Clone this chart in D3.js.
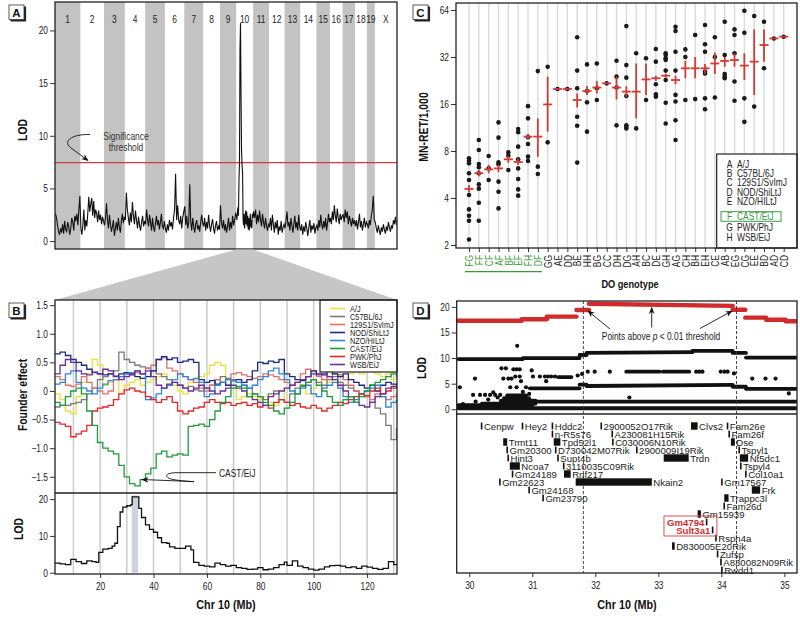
<!DOCTYPE html>
<html><head><meta charset="utf-8">
<script src="https://cdn.jsdelivr.net/npm/d3@7"></script>
<style>
body{margin:0;background:#fff;}
svg{display:block;}
</style></head><body>
<svg id="c" width="800" height="619"></svg>
<script>
// ================= DATA =================
// Panel A: genome scan
const chromosomes = ["1","2","3","4","5","6","7","8","9","10","11","12","13","14","15","16","17","18","19","X"];
const chromLengths = [195.5,182.1,160.0,156.5,151.8,149.7,145.4,129.4,124.6,130.7,122.1,120.1,120.4,124.9,104.0,98.2,95.3,90.7,61.4,171.0];
const scanA = [
 [2.6,2.2,1.5,0.9,0.6,1.2,0.8,1.6,0.7,1.9,1.1,0.9,1.8,1.4,0.6,1.2,2.2,1.8,1.0,2.4,1.9,2.6,1.5,3.0,4.3],
 [1.2,0.6,1.5,3.0,1.0,2.0,1.4,2.6,4.2,2.8,3.5,4.1,2.4,3.8,2.2,3.0,2.6,1.8,2.9,2.0,2.5,1.6,2.3,1.9],
 [1.5,2.2,3.6,2.0,1.2,2.5,1.6,0.9,1.4,2.0,0.5,1.2,1.8,1.0,2.2,1.3,0.8,1.9,2.6,1.7,2.3],
 [2.0,4.6,3.0,2.2,1.5,2.7,1.8,3.7,2.4,1.6,2.9,2.0,1.2,2.3,1.5,1.0,1.8,2.4,1.4,1.9],
 [1.6,3.0,2.0,1.4,2.5,1.8,1.0,2.2,1.3,0.9,1.7,2.4,1.5,2.0,1.1,1.8,2.6,1.4,1.2,1.9],
 [1.2,0.8,1.6,1.0,2.0,1.4,1.8,1.1,2.2,3.0,6.4,2.0,3.4,2.0,1.6,2.4,1.2,2.2,2.8],
 [3.3,1.5,2.4,1.2,1.8,5.4,1.8,1.0,2.2,1.4,0.8,1.6,2.0,1.1,1.5,0.9,1.8,2.5,1.7],
 [1.4,2.2,1.0,1.8,1.2,2.5,1.5,0.9,1.6,2.1,1.2,0.7,1.5,1.9,1.0,1.4,1.1],
 [3.4,1.8,1.2,2.0,1.0,1.6,0.8,1.4,2.2,1.0,1.8,1.2,2.4,1.5,2.0,2.6],
 [2.4,2.0,2.8,3.2,2.4,5.8,7.5,18.3,20.7,14.0,8.6,7.2,6.5,2.0,1.5,2.6,1.2,2.0,2.9,1.6,2.8,1.4,2.4,1.1,2.2,1.0,1.8,2.6,1.3,2.0,1.2,2.6,2.2],
 [2.8,2.2,3.0,1.6,2.5,1.8,2.9,2.0,1.4,2.6,1.8,1.2,2.2,1.5,1.0,1.6],
 [1.4,2.2,1.0,2.5,1.6,0.8,1.8,1.2,2.0,0.6,1.4,1.0,1.9,0.8,1.3,1.6],
 [1.2,2.0,2.8,1.4,1.8,1.0,2.2,1.5,0.8,1.6,2.4,1.2,1.8,1.0,2.5,1.4],
 [1.0,1.6,0.6,1.4,0.9,1.8,1.2,0.5,1.3,2.0,0.8,1.5,1.1,1.7,0.7,1.3],
 [1.5,1.0,2.0,1.3,2.5,1.6,1.1,1.9,1.3,2.2,1.0,1.7,2.6,1.8],
 [2.2,1.6,2.8,2.0,3.4,2.4,1.8,3.1,2.2,1.6,2.6,2.0,2.4],
 [2.5,1.8,3.0,2.2,2.8,1.6,2.4,1.9,1.4,2.2,1.6,2.0],
 [1.4,2.0,1.1,1.8,2.6,1.3,1.9,1.0,1.6,2.2,1.3,1.8],
 [1.6,1.2,2.0,1.5,2.4,3.0,4.3,2.0],
 [1.8,1.2,0.8,1.5,1.0,0.6,1.3,0.9,1.6,1.1,0.7,1.4,1.0,1.8,1.3,0.9,1.5,1.2,2.0,1.6,2.3,1.5]
];
const thresholdA = 7.45;
const lodTicksA = [0,5,10,15,20];

// Panel B: founder effects on Chr 10
const founderLetters = ["A","B","C","D","E","F","G","H"];
const founderNames = ["A/J","C57BL/6J","129S1/SvImJ","NOD/ShiLtJ","NZO/HILtJ","CAST/EiJ","PWK/PhJ","WSB/EiJ"];
const founderColors = ["#e9e23c","#7a7a7a","#e07070","#1c2a80","#2f86d6","#1f9a3c","#e3262a","#6b2f98"];
const effectPos = [3,5,7,9,11,13,15,17,19,21,23,25,27,29,31,33,35,37,39,41,43,45,47,49,51,53,55,57,59,61,63,65,67,69,71,73,75,77,79,81,83,85,87,89,91,93,95,97,99,101,103,105,107,109,111,113,115,117,119,121,123,125,127,129,131];
const effectAJ   = [-0.05,-0.15,-0.35,-0.4,-0.1,0.15,0.3,0.55,0.45,0.1,0.15,0.2,-0.05,0.1,0.15,0.2,0.1,0.15,0.2,0.25,0.3,0.2,0.1,0.0,-0.05,0.15,0.2,0.25,0.3,0.45,0.5,0.45,0.1,0.05,-0.15,-0.1,-0.05,-0.1,-0.15,-0.1,-0.2,-0.25,-0.15,0.05,0.1,0.15,0.1,-0.05,0.05,0.15,0.2,0.15,0.2,0.25,0.2,0.3,0.35,0.3,0.4,0.35,0.3,0.25,0.3,0.2,0.25];
const effectB6   = [-0.28,-0.25,-0.25,-0.22,-0.2,-0.15,-0.05,0.05,0.2,0.25,0.3,0.35,0.68,0.55,0.5,0.45,0.42,0.4,0.35,0.3,0.25,0.2,0.15,0.1,0.05,0.08,0.02,0.0,0.05,0.1,0.2,0.25,0.22,0.2,0.15,0.1,0.05,-0.05,-0.1,-0.15,-0.05,0.0,-0.15,-0.2,-0.05,0.05,0.1,0.15,0.2,0.15,0.1,0.2,0.25,0.15,0.1,0.05,0.0,-0.05,-0.1,-0.2,-0.3,-0.4,-0.6,-0.85,-0.65];
const effect129  = [0.25,0.2,0.1,0.08,0.12,0.25,0.15,0.05,0.0,-0.05,0.0,0.2,0.25,0.3,0.3,0.32,0.3,0.4,0.45,0.55,0.58,0.4,0.35,0.3,0.25,0.2,0.15,0.05,0.0,0.1,0.2,0.15,0.2,0.3,0.32,0.28,0.25,0.22,0.25,0.3,0.28,0.25,0.2,0.15,0.1,0.15,0.3,0.38,0.35,0.25,0.2,0.25,0.3,0.28,0.2,0.1,0.0,-0.05,-0.1,-0.15,-0.05,-0.1,-0.15,-0.1,-0.05];
const effectNOD  = [0.65,0.68,0.62,0.55,0.5,0.45,0.38,0.33,0.3,0.28,0.3,0.26,0.3,0.32,0.28,0.25,0.22,0.25,0.35,0.55,0.6,0.55,0.58,0.5,0.52,0.55,0.5,0.2,0.15,0.18,0.12,0.15,0.1,0.18,0.2,0.15,0.2,0.35,0.5,0.48,0.52,0.5,0.55,0.3,0.25,0.2,0.18,0.25,0.35,0.3,0.28,0.35,0.3,0.25,0.3,0.2,0.15,0.1,0.05,0.1,0.0,0.1,0.15,0.12,0.1];
const effectNZO  = [0.12,0.15,0.3,0.35,0.15,0.05,0.0,-0.05,0.05,0.12,0.18,0.2,0.25,0.3,0.32,0.35,0.3,-0.15,-0.12,-0.05,0.05,0.1,0.2,0.3,0.25,0.2,0.22,0.15,-0.1,-0.05,0.1,0.15,0.2,0.18,0.15,0.1,0.05,0.1,0.2,0.25,0.35,0.4,0.3,0.2,0.0,-0.05,0.05,0.1,-0.05,-0.1,0.05,0.1,0.15,0.05,-0.1,-0.2,-0.15,-0.05,0.0,0.05,0.1,-0.1,-0.28,-0.2,-0.15];
const effectCAST = [-0.2,-0.25,-0.1,0.0,0.05,-0.05,-0.35,-0.6,-0.9,-1.0,-1.05,-1.1,-1.3,-1.5,-1.62,-1.66,-1.55,-1.45,-1.35,-1.1,-1.05,-1.15,-1.12,-1.1,-1.12,-0.62,-0.6,-0.58,-0.62,-0.5,-0.35,-0.2,-0.1,0.05,0.08,0.05,-0.1,-0.05,-0.1,-0.2,-0.25,-0.35,-0.4,-0.3,-0.2,-0.05,0.08,0.15,0.2,0.1,0.0,-0.1,-0.2,-0.25,-0.15,-0.1,-0.2,-0.1,0.0,0.1,0.15,0.2,0.25,0.3,0.25];
const effectPWK  = [-0.55,-0.58,-0.62,-0.8,-0.75,-0.7,-0.6,-0.35,-0.3,-0.28,-0.25,-0.15,-0.05,0.02,0.05,0.0,-0.02,-0.1,-0.15,-0.2,-0.15,-0.1,-0.2,-0.35,-0.4,-0.35,-0.3,-0.28,-0.2,-0.15,-0.2,-0.22,-0.2,-0.25,-0.22,-0.2,-0.25,-0.22,-0.28,-0.25,-0.3,-0.2,-0.15,-0.2,-0.25,-0.22,-0.28,-0.3,-0.25,-0.3,-0.35,-0.3,-0.25,-0.2,-0.22,-0.15,-0.1,-0.05,-0.08,0.0,0.05,-0.05,0.0,0.05,0.08];
const effectWSB  = [0.3,0.45,0.55,0.5,0.35,0.3,0.28,0.32,0.3,0.38,0.35,0.25,0.2,0.25,0.3,0.35,0.3,0.35,0.25,0.1,0.05,0.12,0.15,0.1,0.05,0.0,0.05,0.1,0.05,0.0,-0.05,0.0,0.05,0.1,0.05,0.0,-0.1,-0.15,-0.2,-0.25,-0.1,-0.05,0.0,0.05,0.1,0.15,0.2,0.25,0.3,0.28,0.3,0.25,0.2,0.1,0.0,-0.1,-0.2,-0.25,-0.28,-0.2,-0.1,-0.05,0.05,0.08,0.1];
const effectTicks = [-1.5,-1.0,-0.5,0,0.5,1.0,1.5];
const lodChr10Pos = [3,5,7,9,11,13,15,17,18.5,19.5,21,23,24.5,25.5,26.5,27.5,28.5,30,31.5,32,34,34.5,35.5,37,38.5,40,41.5,43,45,46,48,50,52,54,55,57,59,61,63,65,67,69,71,73,75,77,79,81,83,85,87,89,90,92,94,96,98,100,102,104,106,108,110,112,114,116,118,120,122,124,126,128,130,131];
const lodChr10Val = [2.6,2.4,2.2,3.6,3.0,2.5,3.2,3.0,2.8,5.5,6.4,6.6,7.2,8.0,12.5,16.5,17.8,18.2,18.5,20.6,20.6,17.5,15.0,13.0,11.8,11.0,9.5,8.2,8.0,7.0,6.6,6.6,7.2,6.2,2.8,2.0,1.8,1.6,2.6,2.2,1.8,2.0,1.4,1.2,0.9,1.0,1.4,0.8,1.0,1.4,2.2,2.9,2.0,3.2,1.8,1.4,1.0,0.7,1.0,1.6,1.9,2.0,1.8,1.4,1.6,1.2,1.8,1.5,1.2,0.9,1.2,3.0,2.2,2.0];
const lodTicksB = [0,10,20];
const mbTicksB = [20,40,60,80,100,120];
const qtlInterval = [31.81,34.24];

// Panel C: MN-RET by DO genotype
const genotypes = ["FG","FF","CF","AF","BF","EF","FH","DF","GG","AE","DD","BE","HH","BG","CC","DH","DG","AH","BC","DE","GH","AG","CH","BH","EH","CE","AB","EG","CG","EE","BD","AD","CD"];
const castGenotypes = ["FG","FF","CF","AF","BF","EF","FH","DF"];
const mnretMean = [4.57,5.76,6.1,6.19,7.08,6.8,9.89,9.89,15.9,19.96,19.96,16.97,19.4,20.4,21.7,20.4,19.2,19.2,23.0,23.4,24.3,22.8,27.1,27.1,27.1,29.1,30.2,30.6,28.2,29.9,38.2,42.1,43.2];
const mnretLo = [4.33,5.5,5.76,5.87,6.73,6.52,9.5,7.36,10.64,19.96,19.96,15.2,18.3,18.7,21.7,17.1,17.8,12.95,18.3,22.5,23.4,21.4,23.4,23.4,25.1,24.9,27.7,27.7,22.8,18.3,29.9,42.1,43.2];
const mnretHi = [4.85,6.05,6.52,6.52,7.43,7.18,10.3,12.95,23.95,19.96,19.96,18.7,20.9,22.5,21.7,23.95,20.8,29.1,29.1,24.3,25.0,24.3,30.2,32.0,28.9,34.1,32.0,33.8,33.8,48.1,48.1,42.1,43.2];
const mnretPoints = [
 [7.18,6.94,6.67,5.76,5.22,4.18,3.38,3.08,2.86,2.17],
 [9.41,8.12,6.6,6.29,5.76,4.89,4.59,3.73,2.86],
 [7.43,6.19,5.22],
 [12.2,9.74,6.77,6.57,5.09,4.39,3.43],
 [7.85,7.47,6.05],
 [11.07,10.54,8.53,7.08,6.19,5.29,4.54,4.14],
 [15.5,12.95,9.79,8.87,7.36,6.9],
 [26.0,6.35,5.7],
 [27.7,9.09],
 [19.96],
 [19.96],
 [42.8,26.2,20.2,13.27,11.62,6.74],
 [28.7,19.4,16.4,10.64],
 [29.1,20.2,16.97],
 [21.7],
 [30.3,23.95,20.4,11.68],
 [50.5,28.4,23.6,18.0,11.7,11.45,11.17],
 [33.8,11.17],
 [31.4,16.97],
 [36.0,29.9,21.4,18.45,17.8],
 [33.8,33.0,31.4,30.6,26.2,22.8,16.3,12.0],
 [50.0,47.0,34.6,26.2,18.3,16.6,12.6,9.41],
 [35.8,32.0,16.97],
 [44.3,17.2],
 [51.3,38.6,34.6,25.8,25.1,17.4,14.8],
 [42.8,32.0,17.6],
 [53.9,33.0,24.9,23.95,23.4],
 [48.1,44.3,33.8,22.3,16.8],
 [63.4,45.8,17.4,12.3],
 [58.6,15.4],
 [53.9,27.1],
 [42.1],
 [43.2]
];
const mnretTicks = [2,4,8,16,32,64];

// Panel D: fine mapping 30-35 Mb
const snpRedSegs = [[29.82,30.83,17.3,17.3],[30.83,31.23,17.6,17.6],[31.23,31.7,18.1,18.1],[31.7,31.9,19.4,19.4],[31.9,34.18,20.6,20.2],[34.18,34.38,19.45,19.45],[34.38,34.71,17.9,17.9],[34.71,35.02,17.5,17.5],[35.02,35.18,17.2,17.2]];
const snpBlackSegs = [
 [29.83,30.85,9.8,9.8],[30.85,31.75,10.0,10.0],[31.75,31.86,10.6,10.6],[31.86,33.54,11.0,11.15],[33.54,34.18,11.4,11.4],[34.18,34.39,11.0,11.0],[34.39,35.18,10.1,10.1],
 [30.96,31.75,4.1,4.1],[31.75,31.86,4.8,4.8],[31.86,34.18,4.55,4.75],[34.18,34.39,4.4,4.4],[34.39,35.18,4.0,4.0],
 [30.85,35.18,1.5,1.5],[29.83,35.18,0.2,0.2],
 [29.83,31.0,0.8,0.8],[30.2,31.05,1.1,1.1],[30.5,31.05,1.7,1.7],[30.55,30.95,2.2,2.2],[30.6,30.9,2.7,2.7],
 [31.41,31.62,6.3,6.3],[32.49,33.02,7.35,7.35],[33.07,33.49,7.35,7.35]
];
const snpBlackDots = [[29.85,4.3],[30.09,6.0],[30.06,2.8],[30.17,2.8],[30.25,2.8],[30.33,2.8],[30.41,2.8],[30.49,2.8],[30.51,8.0],[30.58,8.0],[30.54,6.0],[30.62,6.0],[30.67,6.0],[30.7,7.8],[30.75,7.8],[30.8,7.8],[30.76,12.4],[30.73,6.4],[30.8,6.4],[30.99,7.6],[31.01,6.4],[30.82,5.5],[30.65,4.3],[30.75,4.3],[30.9,4.3],[31.12,6.4],[31.2,6.4],[31.25,6.4],[31.3,6.4],[31.36,6.4],[31.22,5.5],[31.72,6.6],[31.79,6.9],[31.88,7.35],[31.99,7.35],[32.23,7.35],[33.6,7.35],[33.65,7.35],[33.7,7.35],[33.99,7.35],[34.05,7.35],[34.1,7.35],[34.2,7.0],[32.54,2.3],[34.49,6.0],[34.7,6.0],[34.86,6.0],[35.07,3.1],[30.1,1.5],[30.3,1.9],[30.45,2.3],[30.0,0.6],[29.9,1.0],[30.38,3.3],[30.85,3.4],[30.95,3.0]];
const lodTicksD = [0,5,10,15,20];
const mbTicksD = [30,31,32,33,34,35];
// genes: [name, start, end, row, labelSide, highlight]
const genes = [
 ["Cenpw",30.195,30.195,0,"r",0],["Hey2",30.844,30.844,0,"r",0],["Hddc2",31.319,31.319,0,"r",0],["2900052O17Rik",32.094,32.094,0,"r",0],["Clvs2",33.518,33.623,0,"r",0],["Fam26e",34.098,34.098,0,"r",0],
 ["n-R5s76",31.319,31.319,1,"r",0],["A230081H15Rik",32.268,32.268,1,"r",0],["Fam26f",34.124,34.124,1,"r",0],
 ["Trmt11",30.538,30.601,2,"r",0],["Tpd52l1",31.34,31.445,2,"r",0],["C030006N10Rik",32.278,32.278,2,"r",0],["Dse",34.151,34.214,2,"r",0],
 ["Gm20300",30.601,30.601,3,"r",0],["D730042M07Rik",31.371,31.371,3,"r",0],["2900009I19Rik",32.658,32.658,3,"r",0],["Tspyl1",34.283,34.283,3,"r",0],
 ["Hint3",30.617,30.617,4,"r",0],["Supt4b",31.408,31.408,4,"r",0],["Trdn",33.085,33.481,4,"r",0],["Nt5dc1",34.293,34.425,4,"r",0],
 ["Ncoa7",30.643,30.802,5,"r",0],["3110035C09Rik",31.498,31.498,5,"r",0],["Tspyl4",34.309,34.309,5,"r",0],
 ["Gm24189",30.686,30.686,6,"r",0],["Rnf217",31.503,31.609,6,"r",0],["Col10a1",34.388,34.388,6,"r",0],
 ["Gm22623",30.485,30.485,7,"r",0],["Nkain2",31.688,32.896,7,"r",0],["Gm17567",34.008,34.008,7,"r",0],
 ["Gm24168",30.949,30.949,8,"r",0],["Frk",34.483,34.615,8,"r",0],
 ["Gm23790",31.171,31.171,9,"r",0],["Trappc3l",34.045,34.114,9,"r",0],
 ["Fam26d",34.045,34.045,10,"r",0],
 ["Gm15939",33.623,33.675,11,"r",0],
 ["Gm4794",33.766,33.766,12,"l",1],
 ["Sult3a1",33.861,33.861,13,"l",1],
 ["Rsph4a",33.914,33.914,14,"r",0],
 ["D830005E20Rik",33.217,33.259,15,"r",0],
 ["Zufsp",33.94,33.94,16,"r",0],
 ["A830082N09Rik",33.993,33.993,17,"r",0],
 ["Rwdd1",34.008,34.008,18,"r",0]
];

// ================= DRAWING =================
const FN = "'Liberation Sans',Arial,sans-serif";   // compressed horizontally below
const FW = "'Liberation Sans',Arial,sans-serif";
const INK = "#222";
const svg = d3.select("#c");
const defs = svg.append("defs");
defs.append("marker").attr("id","ah").attr("viewBox","0 0 10 10").attr("refX",9).attr("refY",5)
  .attr("markerWidth",8).attr("markerHeight",8).attr("orient","auto")
  .append("path").attr("d","M0,1 L10,5 L0,9 L3,5 Z").attr("fill","#111");

function frame(x,y,w,h){
  svg.append("rect").attr("x",x).attr("y",y).attr("width",w).attr("height",h)
    .attr("fill","none").attr("stroke",INK).attr("stroke-width",1.3);
}
function styleAxis(g,size){
  g.select(".domain").remove();
  g.selectAll(".tick line").attr("stroke","#333").attr("stroke-width",1);
  g.selectAll(".tick text").attr("font-family",FN).attr("font-size",size).attr("fill","#222").classed("nar",true);
}
function title(x,y,t,rot,size){
  svg.append("text").attr("transform",`translate(${x},${y})${rot?" rotate(-90)":""}`)
    .attr("text-anchor","middle").attr("font-family",FN).attr("font-weight","bold").classed("nar",true)
    .attr("font-size",size||12.5).attr("fill","#111").text(t);
}
function ntext(x,y,t,size,col){
  return svg.append("text").attr("x",x).attr("y",y).attr("font-family",FN).attr("font-size",size).attr("fill",col||"#222").classed("nar",true).text(t);
}
function panelLabel(x,y,t){
  svg.append("path").attr("d",`M${x+1.5},${y+15.5} H${x+16} V${y+1.5}`).attr("fill","none").attr("stroke","#222").attr("stroke-width",2.2);
  svg.append("rect").attr("x",x).attr("y",y).attr("width",15).attr("height",14.5).attr("fill","#fff").attr("stroke","#333").attr("stroke-width",0.8);
  svg.append("text").attr("x",x+7.5).attr("y",y+11.5).attr("text-anchor","middle").attr("font-family",FW).attr("font-weight","bold").attr("font-size",11.5).attr("fill","#111").text(t);
}
const fmtEff = d => d===0 ? "0" : (d<0?"\u2212":"") + Math.abs(d).toFixed(1);

// ---------- Panel A ----------
const starts = []; { let acc=0; chromLengths.forEach(l=>{starts.push(acc); acc+=l;}); }
const totalLen = d3.sum(chromLengths);
const xA = d3.scaleLinear().domain([0,totalLen]).range([55,397]);
const yA = d3.scaleLinear().domain([-0.75,22.7]).range([249,2]);
chromosomes.forEach((c,i)=>{
  if(i%2===0) svg.append("rect").attr("x",xA(starts[i])).attr("y",2).attr("width",xA(starts[i]+chromLengths[i])-xA(starts[i])).attr("height",247).attr("fill","#c3c3c3");
  ntext(xA(starts[i]+chromLengths[i]/2),23,c,10.5).attr("text-anchor","middle");
});
svg.append("line").attr("x1",55).attr("x2",397).attr("y1",yA(thresholdA)).attr("y2",yA(thresholdA)).attr("stroke","#cf3a3a").attr("stroke-width",1.3);
const scanPts = [];
scanA.forEach((vals,ci)=>{ const n=vals.length; vals.forEach((v,j)=>scanPts.push([starts[ci]+(j+0.5)/n*chromLengths[ci], v])); });
svg.append("path").datum(scanPts).attr("d",d3.line().x(d=>xA(d[0])).y(d=>yA(d[1])))
  .attr("fill","none").attr("stroke","#111").attr("stroke-width",1.1);
styleAxis(svg.append("g").attr("transform","translate(55,0)").call(d3.axisLeft(yA).tickValues(lodTicksA).tickSize(5).tickPadding(2)),10.5);
frame(55,2,342,247);
title(27,130,"LOD",true,13);
ntext(126,140,"Significance",10.5,"#333").attr("text-anchor","middle");
ntext(126,151,"threshold",10.5,"#333").attr("text-anchor","middle");
svg.append("path").attr("d","M90,134.5 C72,134 62,141 71,148 L88,160.5").attr("fill","none").attr("stroke","#111").attr("stroke-width",0.9).attr("marker-end","url(#ah)");
panelLabel(9,5,"A");

// trapezoid linking chr 10 to panel B
svg.append("polygon").attr("points",[[xA(starts[9]),249.5],[xA(starts[9]+chromLengths[9]),249.5],[397,300],[55,300]].map(p=>p.join(",")).join(" "))
  .attr("fill","#c6c6c6");

// ---------- Panel B ----------
const xB = d3.scaleLinear().domain([3.1,131.2]).range([55,397]);
const yF = d3.scaleLinear().domain([-1.783,1.59]).range([493,300]);
const yL = d3.scaleLinear().domain([-0.35,21.66]).range([574,493]);
svg.append("rect").attr("x",55).attr("y",300).attr("width",342).attr("height",274).attr("fill","#fff");
d3.range(10,131,10).forEach(m=>{
  svg.append("line").attr("x1",xB(m)).attr("x2",xB(m)).attr("y1",300).attr("y2",574).attr("stroke","#c9c9c9").attr("stroke-width",1.4);
});
svg.append("rect").attr("x",xB(qtlInterval[0])).attr("width",xB(qtlInterval[1])-xB(qtlInterval[0]))
  .attr("y",yL(21)).attr("height",yL(0)-yL(21)).attr("fill","#cdd3da");
defs.append("clipPath").attr("id","clipF").append("rect").attr("x",55).attr("y",300).attr("width",342).attr("height",193);
const effects = [effectAJ,effectB6,effect129,effectNOD,effectNZO,effectCAST,effectPWK,effectWSB];
const gF = svg.append("g").attr("clip-path","url(#clipF)");
const drawOrder = [0,1,2,3,4,6,7,5];
drawOrder.forEach(i=>{
  const pts = effectPos.map((p,k)=>[p,effects[i][k]]);
  gF.append("path").datum(pts).attr("d",d3.line().curve(d3.curveStepAfter).x(d=>xB(d[0])).y(d=>yF(d[1])))
    .attr("fill","none").attr("stroke",founderColors[i]).attr("stroke-width",1.3);
});
const lodB = lodChr10Pos.map((p,k)=>[p,lodChr10Val[k]]);
svg.append("path").datum(lodB).attr("d",d3.line().curve(d3.curveStepAfter).x(d=>xB(d[0])).y(d=>yL(d[1])))
  .attr("fill","none").attr("stroke","#111").attr("stroke-width",1.3);
// legend
svg.append("rect").attr("x",320).attr("y",300).attr("width",77).attr("height",72).attr("fill","#fff").attr("stroke",INK).attr("stroke-width",1.2);
founderNames.forEach((n,i)=>{
  const y = 308.5 + i*8;
  svg.append("line").attr("x1",330).attr("x2",345).attr("y1",y).attr("y2",y).attr("stroke",founderColors[i]).attr("stroke-width",1.6);
  ntext(350,y+3.2,n,9.2);
});
svg.append("line").attr("x1",55).attr("x2",397).attr("y1",493).attr("y2",493).attr("stroke",INK).attr("stroke-width",1.3);
styleAxis(svg.append("g").attr("transform","translate(55,0)").call(d3.axisLeft(yF).tickValues(effectTicks).tickFormat(fmtEff).tickSize(5).tickPadding(2)),10.5);
styleAxis(svg.append("g").attr("transform","translate(55,0)").call(d3.axisLeft(yL).tickValues(lodTicksB).tickSize(5).tickPadding(2)),10.5);
styleAxis(svg.append("g").attr("transform","translate(0,574)").call(d3.axisBottom(xB).tickValues(mbTicksB).tickSize(4).tickPadding(5)),10.5);
frame(55,300,342,274);
title(27,395,"Founder effect",true,13);
title(23,529,"LOD",true,13);
title(226,609,"Chr 10 (Mb)",false,13.5);
ntext(219,476.8,"CAST/EiJ",10.5);
svg.append("path").attr("d","M216,472.7 L176,472.7 C163,473 165,478 173,479.5 C181,481 190,481.5 194,481.6 L142,479.5")
  .attr("fill","none").attr("stroke","#111").attr("stroke-width",0.9).attr("marker-end","url(#ah)");
panelLabel(9,303,"B");

// ---------- Panel C ----------
const xC = d3.scalePoint().domain(genotypes).range([469,783.7]);
const yC = d3.scaleLog().base(2).domain([1.913,71.0]).range([248,3]);
genotypes.forEach(g=>{
  svg.append("line").attr("x1",xC(g)).attr("x2",xC(g)).attr("y1",3).attr("y2",248).attr("stroke","#dadada").attr("stroke-width",1.4);
});
genotypes.forEach((g,i)=>{
  mnretPoints[i].forEach(v=>{
    svg.append("circle").attr("cx",xC(g)).attr("cy",yC(v)).attr("r",2.3).attr("fill","#1a1a1a");
  });
});
genotypes.forEach((g,i)=>{
  const x = xC(g);
  if(mnretHi[i]>mnretLo[i]) svg.append("line").attr("x1",x).attr("x2",x).attr("y1",yC(mnretLo[i])).attr("y2",yC(mnretHi[i])).attr("stroke","#d43b35").attr("stroke-width",1.8);
  svg.append("line").attr("x1",x-4.5).attr("x2",x+4.5).attr("y1",yC(mnretMean[i])).attr("y2",yC(mnretMean[i])).attr("stroke","#d43b35").attr("stroke-width",1.8);
});
// legend
svg.append("rect").attr("x",716.7).attr("y",154).attr("width",80.3).attr("height",94).attr("fill","#fff").attr("stroke",INK).attr("stroke-width",1.2);
founderNames.forEach((n,i)=>{
  const y = i<5 ? 164+9.3*i : 216.5+10.3*(i-5);
  const hl = founderLetters[i]==="F";
  const col = hl ? "#2f9a3f" : "#222";
  ntext(729.5,y+3.7,founderLetters[i],10.5,col).attr("text-anchor","middle");
  ntext(737,y+3.7,n,10.5,col);
  if(hl) svg.append("rect").attr("x",721).attr("y",y-4.8).attr("width",60).attr("height",9.6).attr("fill","none").attr("stroke","#3a9a4a").attr("stroke-width",1);
});
styleAxis(svg.append("g").attr("transform","translate(456,0)").call(d3.axisLeft(yC).tickValues(mnretTicks).tickFormat(d3.format("d")).tickSize(5).tickPadding(2)),10.5);
const gxC = svg.append("g").attr("transform","translate(0,248)").call(d3.axisBottom(xC).tickSize(4).tickPadding(2));
styleAxis(gxC,10.5);
gxC.selectAll(".tick text").attr("transform","rotate(-90)").attr("text-anchor","end").attr("dx","0").attr("dy","0.35em").attr("y",0).attr("x",-7)
  .attr("fill",d=>castGenotypes.includes(d)?"#3a9a3a":"#222");
svg.append("line").attr("x1",xC(castGenotypes[0])-4).attr("x2",xC(castGenotypes[castGenotypes.length-1])+4).attr("y1",271.7).attr("y2",271.7).attr("stroke","#3a9a3a").attr("stroke-width",1.3);
frame(456,3,341,245);
title(428,127,"MN-RET/1,000",true,13);
title(630,287.5,"DO genotype",false,11.5);
panelLabel(413,5,"C");

// ---------- Panel D ----------
const xD = d3.scaleLinear().domain([29.8,35.2]).range([456.7,797]);
const yD = d3.scaleLinear().domain([-0.92,21.15]).range([414,301]);
const rowY = d3.scaleLinear().domain([0,18]).range([426,570]);
defs.append("clipPath").attr("id","clipD").append("rect").attr("x",456.7).attr("y",301).attr("width",340.3).attr("height",113);
const gD = svg.append("g").attr("clip-path","url(#clipD)");
snpBlackSegs.forEach(s=>{
  gD.append("line").attr("x1",xD(s[0])).attr("x2",xD(s[1])).attr("y1",yD(s[2])).attr("y2",yD(s[3])).attr("stroke","#111").attr("stroke-width",3.8).attr("stroke-linecap","round");
});
snpBlackDots.forEach(p=>{
  gD.append("circle").attr("cx",xD(p[0])).attr("cy",yD(p[1])).attr("r",2.1).attr("fill","#111");
});
snpRedSegs.forEach(s=>{
  gD.append("line").attr("x1",xD(s[0])).attr("x2",xD(s[1])).attr("y1",yD(s[2])).attr("y2",yD(s[3])).attr("stroke","#d02a2a").attr("stroke-width",4.4).attr("stroke-linecap","round");
});
qtlInterval.forEach(m=>{
  svg.append("line").attr("x1",xD(m)).attr("x2",xD(m)).attr("y1",301).attr("y2",573).attr("stroke","#333").attr("stroke-width",0.9).attr("stroke-dasharray","3,2");
});
// annotation
const ann = svg.append("text").attr("x",661).attr("y",339.5).attr("text-anchor","middle").attr("font-family",FN).attr("font-size",10.5).attr("fill","#222").classed("nar",true);
ann.append("tspan").text("Points above ");
ann.append("tspan").attr("font-style","italic").text("p");
ann.append("tspan").text(" < 0.01 threshold");
[[[610,329],[588,311]],[[651.7,327.5],[651.7,307.5]],[[700,328.5],[732,311]]].forEach(a=>{
  svg.append("line").attr("x1",a[0][0]).attr("y1",a[0][1]).attr("x2",a[1][0]).attr("y2",a[1][1]).attr("stroke","#111").attr("stroke-width",0.9).attr("marker-end","url(#ah)");
});
// genes
const hlLabels = [];
genes.forEach(g=>{
  const [name,s,e,row,side,hl] = g;
  const y = rowY(row);
  const isTick = e<=s;
  const x0 = isTick ? xD(s)-0.8 : xD(s);
  const w = isTick ? 1.6 : xD(e)-xD(s);
  svg.append("rect").attr("x",x0).attr("y",isTick?y-3.4:y-3.7).attr("width",w).attr("height",isTick?6.8:7.4).attr("fill","#111");
  const t = svg.append("text").attr("y",y+3.5).attr("font-size",9.6).text(name);
  if(side==="l"){
    t.attr("x",x0-1.5).attr("text-anchor","end").attr("font-family",FW).attr("font-weight","bold").attr("fill","#d03030");
    hlLabels.push({t,x1:x0+w});
  } else {
    t.attr("x",x0+w+1.5).attr("font-family",FW).attr("fill","#222");
  }
});
if(hlLabels.length){
  const bbs = hlLabels.map(h=>h.t.node().getBBox());
  const bx0 = d3.min(bbs,b=>b.x)-3, by0 = d3.min(bbs,b=>b.y)-0.5;
  const bx1 = d3.max(hlLabels,h=>h.x1)+3.5, by1 = d3.max(bbs,b=>b.y+b.height)+0.5;
  svg.append("rect").attr("x",bx0).attr("y",by0).attr("width",bx1-bx0).attr("height",by1-by0).attr("fill","none").attr("stroke","#d85050").attr("stroke-width",1);
}
svg.append("line").attr("x1",456.7).attr("x2",797).attr("y1",414).attr("y2",414).attr("stroke",INK).attr("stroke-width",1.3);
styleAxis(svg.append("g").attr("transform","translate(456.7,0)").call(d3.axisLeft(yD).tickValues(lodTicksD).tickSize(5).tickPadding(2)),10.5);
styleAxis(svg.append("g").attr("transform","translate(0,573)").call(d3.axisBottom(xD).tickValues(mbTicksD).tickFormat(d3.format("d")).tickSize(4).tickPadding(5)),10.5);
frame(456.7,301,340.3,272);
title(426,368,"LOD",true,13);
title(627,609,"Chr 10 (Mb)",false,13.5);
panelLabel(413,303,"D");

// condensed look: squeeze "narrow" texts horizontally
svg.selectAll("text.nar").each(function(){
  const L = this.getComputedTextLength();
  if(L>0){ this.setAttribute("textLength",(L*0.8).toFixed(2)); this.setAttribute("lengthAdjust","spacingAndGlyphs"); }
});
</script>
</body></html>
